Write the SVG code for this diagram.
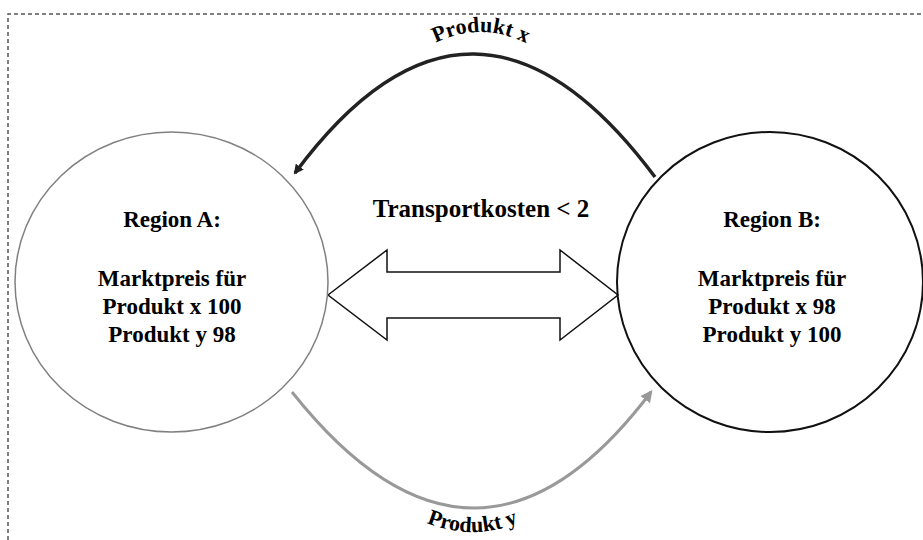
<svg xmlns="http://www.w3.org/2000/svg" width="923" height="540" viewBox="0 0 923 540">
  <style>
    .t { font-family: "Liberation Serif", "Times New Roman", serif; font-weight: bold; fill: #000; }
    .node-text { font-size: 23px; text-anchor: middle; }
    .big { font-size: 25px; }
    .lbl { font-size: 22px; }
  </style>
  <defs>
    <marker id="headDark" markerWidth="10" markerHeight="10" refX="8" refY="5" orient="auto" markerUnits="userSpaceOnUse" viewBox="0 0 10 10">
      <path d="M0,0 L10,5 L0,10 Z" fill="#222"/>
    </marker>
    <marker id="headGray" markerWidth="12" markerHeight="12" refX="8" refY="5" orient="auto" markerUnits="userSpaceOnUse" viewBox="0 0 10 10">
      <path d="M0,0 L10,5 L0,10 Z" fill="#999"/>
    </marker>
    <path id="pathX" d="M420,52 Q480,12 542,52"/>
    <path id="pathY" d="M414,517 Q472,547 531,517"/>
  </defs>
  <rect width="923" height="540" fill="#fff"/>
  <path d="M8,540 V14 H923" fill="none" stroke="#555" stroke-width="1.5" stroke-dasharray="4,3"/>

  <g id="connectors">
    <path id="arrowX" d="M655,177 Q473,-67 295,173" fill="none" stroke="#222" stroke-width="3.5" marker-end="url(#headDark)"/>
    <path id="arrowY" d="M292,392 Q476,624 651,392" fill="none" stroke="#999" stroke-width="3" marker-end="url(#headGray)"/>
    <text class="t lbl"><textPath href="#pathX" startOffset="50%" text-anchor="middle">Produkt x</textPath></text>
    <text class="t lbl"><textPath href="#pathY" startOffset="50%" text-anchor="middle">Produkt y</textPath></text>
  </g>

  <g id="transport">
    <polygon points="328,295 387,250 387,272 560,272 560,250 618,295 560,340 560,318 387,318 387,340" fill="#fff" stroke="#111" stroke-width="1.5" stroke-linejoin="miter"/>
    <text class="t node-text big" x="481" y="217">Transportkosten &lt; 2</text>
  </g>

  <g id="regionA">
    <ellipse cx="171.5" cy="282" rx="156.5" ry="150" fill="none" stroke="#808080" stroke-width="1.5"/>
    <text class="t node-text" x="172" y="227">Region A:</text>
    <text class="t node-text" x="172" y="286">Marktpreis für</text>
    <text class="t node-text" x="172" y="314">Produkt x 100</text>
    <text class="t node-text" x="172" y="342">Produkt y 98</text>
  </g>

  <g id="regionB">
    <ellipse cx="770" cy="282" rx="153" ry="150" fill="none" stroke="#111" stroke-width="2"/>
    <text class="t node-text" x="772" y="227">Region B:</text>
    <text class="t node-text" x="772" y="286">Marktpreis für</text>
    <text class="t node-text" x="772" y="314">Produkt x 98</text>
    <text class="t node-text" x="772" y="342">Produkt y 100</text>
  </g>
</svg>
